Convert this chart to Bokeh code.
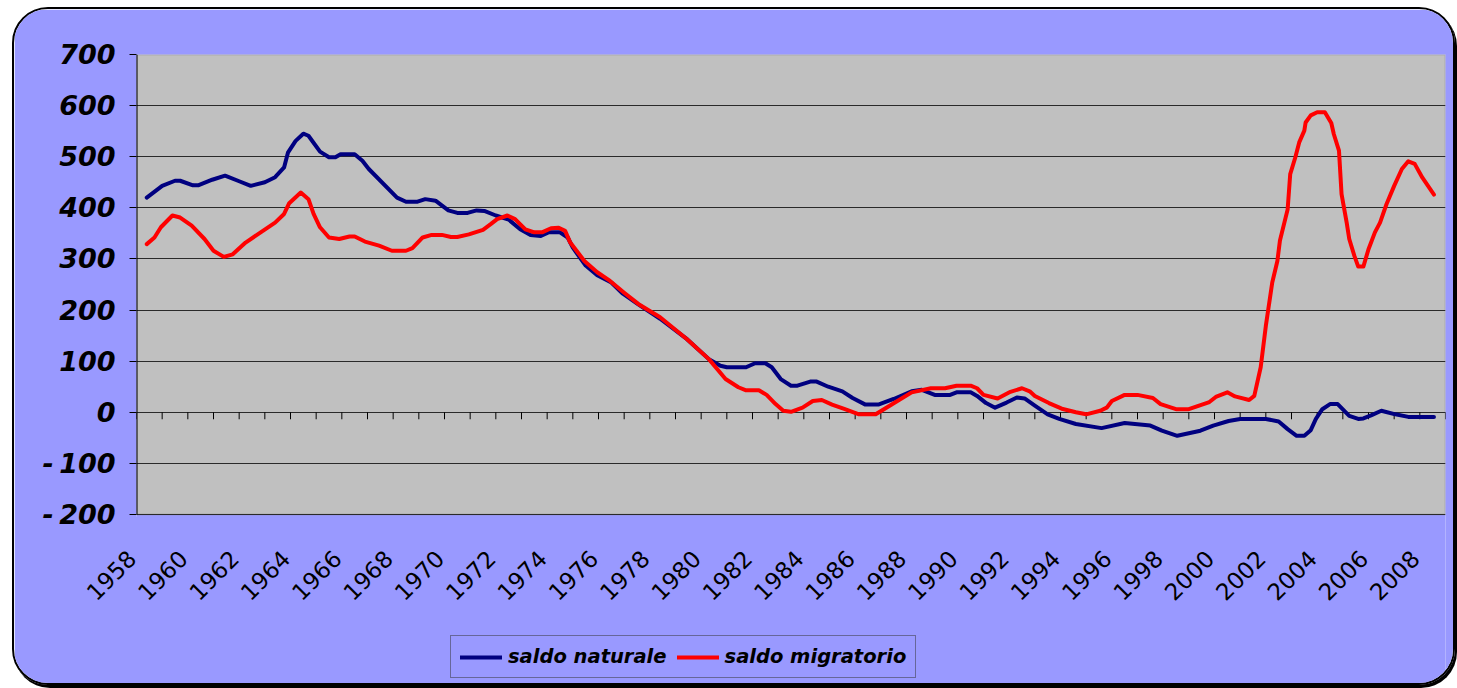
import math
from bokeh.plotting import figure
from bokeh.models import (ColumnDataSource, FixedTicker, Legend, LegendItem,
                          Range1d, BoxAnnotation)
from bokeh.core.properties import value
from bokeh.embed import file_html
from bokeh.resources import INLINE

# ---------------- data ----------------
years = list(range(1958, 2009))          # categories on the x axis
label_years = list(range(1958, 2009, 2))  # labelled categories
y_ticks = [-200, -100, 0, 100, 200, 300, 400, 500, 600, 700]

nat_year = [1957.9, 1958.5, 1959.0, 1959.2, 1959.7, 1959.9, 1960.45, 1960.95, 1961.5, 1961.95,
            1962.5, 1962.9, 1963.25, 1963.4, 1963.7, 1964.0, 1964.2, 1964.65, 1965.0, 1965.25,
            1965.45, 1966.0, 1966.3, 1966.55, 1967.65, 1968.0, 1968.45, 1968.75, 1969.15, 1969.65,
            1970.0, 1970.4, 1970.75, 1971.05, 1971.5, 1972.0, 1972.45, 1972.85, 1973.25, 1973.55,
            1974.0, 1974.3, 1974.5, 1975.0, 1975.45, 1976.0, 1976.45, 1977.05, 1977.9, 1978.95,
            1979.8, 1980.25, 1980.5, 1981.25, 1981.6, 1982.0, 1982.25, 1982.6, 1983.0, 1983.25,
            1983.75, 1984.0, 1984.45, 1985.0, 1985.4, 1985.9, 1986.4, 1987.0, 1987.7, 1988.1,
            1988.6, 1989.2, 1989.45, 1990.0, 1990.25, 1990.6, 1990.95, 1991.4, 1991.8, 1992.1,
            1992.5, 1993.0, 1993.45, 1994.1, 1995.1, 1996.0, 1997.0, 1997.45, 1998.05, 1998.95,
            1999.45, 2000.05, 2000.5, 2001.5, 2002.0, 2002.35, 2002.7, 2003.0, 2003.25, 2003.45,
            2003.7, 2004.0, 2004.3, 2004.75, 2005.1, 2005.3, 2005.6, 2006.0, 2006.55, 2007.05,
            2008.05]
nat_val = [420, 443, 453, 453, 444, 444, 455, 463, 452, 443,
           450, 460, 479, 508, 531, 545, 541, 510, 499, 499,
           505, 505, 492, 476, 420, 412, 412, 417, 414, 395,
           390, 390, 395, 394, 385, 377, 358, 347, 345, 352,
           352, 342, 322, 287, 268, 254, 232, 211, 183, 143,
           104, 91, 88, 88, 96, 96, 88, 65, 52, 52,
           60, 60, 50, 41, 28, 15, 15, 26, 41, 44,
           34, 34, 39, 39, 32, 18, 9, 19, 29, 27,
           13, -4, -13, -23, -31, -21, -26, -36, -46, -36,
           -26, -17, -13, -13, -18, -33, -46, -46, -35, -13,
           6, 16, 16, -7, -13, -12, -6, 3, -4, -9,
           -9]

mig_year = [1957.9, 1958.2, 1958.45, 1958.9, 1959.2, 1959.65, 1960.15, 1960.5, 1960.9, 1961.25,
            1961.75, 1962.25, 1962.9, 1963.25, 1963.45, 1963.9, 1964.2, 1964.4, 1964.65, 1965.0,
            1965.4, 1965.8, 1966.0, 1966.4, 1966.95, 1967.45, 1968.0, 1968.25, 1968.65, 1969.0,
            1969.4, 1969.75, 1970.0, 1970.45, 1971.0, 1971.3, 1971.55, 1971.95, 1972.25, 1972.65,
            1973.0, 1973.3, 1973.65, 1973.95, 1974.2, 1974.4, 1974.95, 1975.45, 1975.95, 1976.5,
            1977.05, 1977.9, 1978.95, 1979.8, 1980.45, 1980.95, 1981.25, 1981.75, 1982.05, 1982.4,
            1982.7, 1983.0, 1983.45, 1983.85, 1984.2, 1984.6, 1985.1, 1985.65, 1986.3, 1987.05,
            1987.7, 1988.45, 1989.0, 1989.45, 1990.0, 1990.25, 1990.5, 1991.05, 1991.55, 1992.0,
            1992.3, 1992.5, 1993.05, 1993.55, 1994.1, 1994.5, 1995.05, 1995.3, 1995.5, 1996.0,
            1996.5, 1997.1, 1997.4, 1998.0, 1998.5, 1999.3, 1999.55, 2000.0, 2000.3, 2000.85,
            2001.05, 2001.3, 2001.5, 2001.75, 2001.95, 2002.05, 2002.35, 2002.45, 2002.65, 2002.8,
            2003.0, 2003.05, 2003.25, 2003.5, 2003.8, 2004.05, 2004.15, 2004.35, 2004.45, 2004.65,
            2004.75, 2004.95, 2005.1, 2005.3, 2005.5, 2005.75, 2005.95, 2006.2, 2006.5, 2006.8,
            2007.05, 2007.3, 2007.6, 2008.05]
mig_val = [329, 342, 362, 385, 381, 365, 339, 316, 304, 309,
           332, 349, 371, 388, 409, 430, 417, 388, 362, 342,
           339, 344, 344, 334, 326, 316, 316, 321, 342, 347,
           347, 343, 343, 348, 357, 368, 378, 385, 378, 358,
           352, 352, 360, 361, 355, 332, 296, 274, 257, 234,
           212, 186, 143, 104, 65, 49, 43, 43, 34, 16,
           3, 1, 9, 22, 24, 15, 6, -4, -4, 19,
           39, 47, 47, 52, 52, 47, 34, 27, 40, 47,
           41, 32, 18, 7, 0, -4, 3, 9, 22, 34,
           34, 28, 16, 6, 6, 20, 30, 39, 31, 24,
           32, 88, 169, 254, 296, 336, 397, 466, 499, 528,
           551, 567, 581, 587, 587, 566, 544, 512, 427, 371,
           339, 306, 285, 285, 319, 352, 371, 407, 443, 476,
           491, 486, 459, 426]

series_names = ["saldo naturale", "saldo migratorio"]
series_colors = ["#000080", "#FF0000"]

# ---------------- layout constants ----------------
BG = "#9999FF"
W, H = 1443, 678
TOP, LEFT, RIGHT, BOTTOM = 45, 122, 12, 2
PLOT_H = 460                              # pixel height of the grey plot area
frame_h = H - TOP - BOTTOM
y_min, y_max = y_ticks[0], y_ticks[-1]
units_per_px = (y_max - y_min) / PLOT_H
y_start = y_max - frame_h * units_per_px  # frame extends below the plot area
x_lo = years[0] - 0.5
x_hi = years[-1] + 0.5

p = figure(width=W, height=H, output_backend="svg", toolbar_location=None,
           x_range=Range1d(x_lo, x_hi), y_range=Range1d(y_start, y_max),
           min_border_left=LEFT, min_border_right=RIGHT, min_border_top=TOP,
           min_border_bottom=BOTTOM)
p.margin = (7, 0, 0, 12)
p.border_fill_color = BG
p.background_fill_color = BG
p.outline_line_color = None
p.styles = {"border-radius": "36px", "overflow": "hidden",
            "border": "2px solid black", "box-sizing": "border-box",
            "box-shadow": "2px 3px 0px #000000"}

# grey plot area
area = BoxAnnotation(bottom=y_min, top=y_max, fill_color="#C0C0C0", fill_alpha=1.0,
                     line_color="#808080", line_width=2, level="image")
p.add_layout(area)

# y axis (its line is drawn below, only over the plot area)
ya = p.yaxis[0]
ya.ticker = FixedTicker(ticks=y_ticks)
ya.bounds = (y_min, y_max)
ya.axis_line_color = None
ya.axis_line_alpha = 0
ya.major_tick_in = 0
ya.major_tick_out = 7
ya.major_tick_line_color = "black"
ya.minor_tick_line_color = None
ya.major_label_text_font = "DejaVu Sans"
ya.major_label_text_font_style = "bold italic"
ya.major_label_text_font_size = "27px"
ya.major_label_text_color = "black"
ya.major_label_standoff = 14
ya.major_label_overrides = {t: str(t).replace("-", "-\u2009") for t in y_ticks if t < 0}

p.segment(x0=[x_lo], x1=[x_lo], y0=[y_min], y1=[y_max], line_color="black",
          line_width=2)
# keep the frame edge below the plot area clean
p.segment(x0=[x_lo], x1=[x_lo], y0=[y_start], y1=[y_min - 2 * units_per_px],
          line_color=BG, line_width=4, level="overlay")

p.xaxis.visible = False
p.xgrid.grid_line_color = None
p.ygrid.ticker = FixedTicker(ticks=y_ticks)
p.ygrid.grid_line_color = "#2a2a2a"
p.ygrid.grid_line_width = 1

# category tick marks along the zero line
bounds = [y - 0.5 for y in years] + [years[-1] + 0.5]
tick_len = 7 * units_per_px
p.segment(x0=bounds, x1=bounds, y0=[0] * len(bounds), y1=[-tick_len] * len(bounds),
          line_color="black", line_width=1)

# category labels under the plot area, rotated like the original
lab_x = [y - 0.68 for y in label_years]
lab_y = [y_min - 40 * units_per_px] * len(label_years)
p.text(x=lab_x, y=lab_y, text=[str(y) for y in label_years], angle=math.pi / 4,
       text_align="right", text_baseline="middle", text_font=value("DejaVu Sans"),
       text_font_size="23px", text_color="black", level="overlay")

src_nat = ColumnDataSource(dict(x=nat_year, y=nat_val))
src_mig = ColumnDataSource(dict(x=mig_year, y=mig_val))
r_nat = p.line("x", "y", source=src_nat, line_color=series_colors[0], line_width=4,
               line_join="round", line_cap="round")
r_mig = p.line("x", "y", source=src_mig, line_color=series_colors[1], line_width=4,
               line_join="round", line_cap="round")

legend = Legend(items=[LegendItem(label=series_names[0], renderers=[r_nat]),
                       LegendItem(label=series_names[1], renderers=[r_mig])],
                orientation="horizontal", location=(314, 7),
                background_fill_color=BG, background_fill_alpha=1.0,
                border_line_color="#333333", border_line_width=1,
                label_text_font="DejaVu Sans", label_text_font_style="bold italic",
                label_text_font_size="19.5px", label_text_color="black",
                glyph_width=42, glyph_height=20, label_standoff=6, spacing=10,
                padding=9, margin=0)
p.add_layout(legend, "center")

open("out.html", "w").write(file_html(p, INLINE))
